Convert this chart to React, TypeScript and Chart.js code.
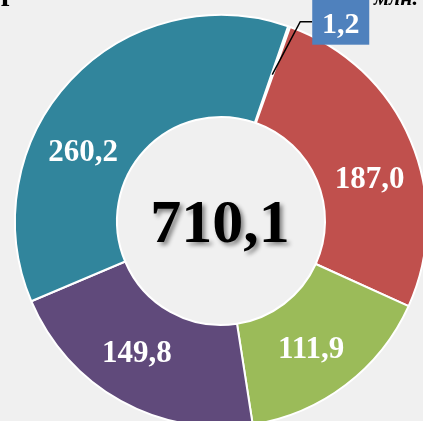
import React, { useEffect, useRef } from "react";
import { Chart, registerables } from "chart.js";

Chart.register(...registerables);

// Ring segments, clockwise from the small slice at the top
const categories = ["Категория 1", "Категория 2", "Категория 3", "Категория 4", "Категория 5"];
const values = [1.2, 187.0, 111.9, 149.8, 260.2];
const colors = ["#4f81bd", "#c0504d", "#9bbb59", "#604a7b", "#31859c"];

// Where each value label sits along its arc (0 = start, 1 = end)
const labelAlong = [0.5, 0.57, 0.53, 0.55, 0.38];

const fmt = (v: number) => v.toFixed(1).replace(".", ",");
const total = values.reduce((s, v) => s + v, 0);

const SERIF = '"Liberation Serif", "Times New Roman", serif';

const ringLabels = {
  id: "ringLabels",
  afterDatasetsDraw(chart: any) {
    const ctx: CanvasRenderingContext2D = chart.ctx;
    const meta = chart.getDatasetMeta(0);
    ctx.save();
    meta.data.forEach((arc: any, i: number) => {
      const p = arc.getProps(["x", "y", "startAngle", "endAngle", "innerRadius", "outerRadius"], true);
      const a = p.startAngle + (p.endAngle - p.startAngle) * labelAlong[i];
      const r = (p.innerRadius + p.outerRadius) / 2;
      const px = p.x + Math.cos(a) * r;
      const py = p.y + Math.sin(a) * r;
      const text = fmt(values[i]);
      if (i === 0) {
        // callout for the thin slice: leader line and boxed label
        const ex = px + 28;
        const ey = py - 53;
        const bx = ex + 12;
        ctx.strokeStyle = "#000";
        ctx.lineWidth = 1.5;
        ctx.beginPath();
        ctx.moveTo(px, py);
        ctx.lineTo(ex, ey);
        ctx.lineTo(bx, ey);
        ctx.stroke();
        ctx.fillStyle = colors[0];
        ctx.fillRect(bx, ey - 24, 57, 47);
        ctx.fillStyle = "#fff";
        ctx.font = `bold 30px ${SERIF}`;
        ctx.textAlign = "center";
        ctx.textBaseline = "alphabetic";
        ctx.fillText(text, bx + 28.5, ey + 11);
      } else {
        ctx.fillStyle = "#fff";
        ctx.font = `bold 31px ${SERIF}`;
        ctx.textAlign = "center";
        ctx.textBaseline = "alphabetic";
        ctx.fillText(text, px, py + 10.5);
      }
    });

    // total in the centre
    const c = meta.data[0];
    ctx.font = `bold 62px ${SERIF}`;
    ctx.textAlign = "center";
    ctx.textBaseline = "alphabetic";
    ctx.shadowColor = "rgba(0,0,0,0.45)";
    ctx.shadowOffsetX = 3;
    ctx.shadowOffsetY = 3;
    ctx.shadowBlur = 4;
    ctx.fillStyle = "#000";
    ctx.fillText(fmt(total), c.x - 1, c.y + 21);
    ctx.restore();

    // heading line above the ring
    ctx.save();
    ctx.fillStyle = "#000";
    ctx.textBaseline = "alphabetic";
    ctx.font = `bold 30px ${SERIF}`;
    ctx.textAlign = "left";
    ctx.fillText("р", 1, 0);
    ctx.font = `italic bold 22px ${SERIF}`;
    ctx.textAlign = "right";
    ctx.fillText("млн.", 418, 5);
    ctx.restore();
  },
};

export default function App() {
  const ref = useRef<HTMLCanvasElement | null>(null);

  useEffect(() => {
    if (!ref.current) return;
    const chart = new Chart(ref.current, {
      type: "doughnut",
      data: {
        labels: categories,
        datasets: [
          {
            data: values,
            backgroundColor: colors,
            borderColor: "#ffffff",
            borderWidth: 2,
          },
        ],
      },
      options: {
        responsive: false,
        animation: false,
        rotation: 19,
        cutout: "50.5%",
        layout: { padding: 14 },
        plugins: {
          legend: { display: false },
          tooltip: { enabled: false },
        },
      },
      plugins: [ringLabels],
    });
    return () => chart.destroy();
  }, []);

  return (
    <div
      style={{
        position: "fixed",
        left: 0,
        top: 0,
        width: 423,
        height: 421,
        overflow: "hidden",
        background: "#f0f0f0",
      }}
    >
      <canvas ref={ref} width={442} height={442} style={{ position: "absolute", left: 0, top: 0 }} />
    </div>
  );
}
